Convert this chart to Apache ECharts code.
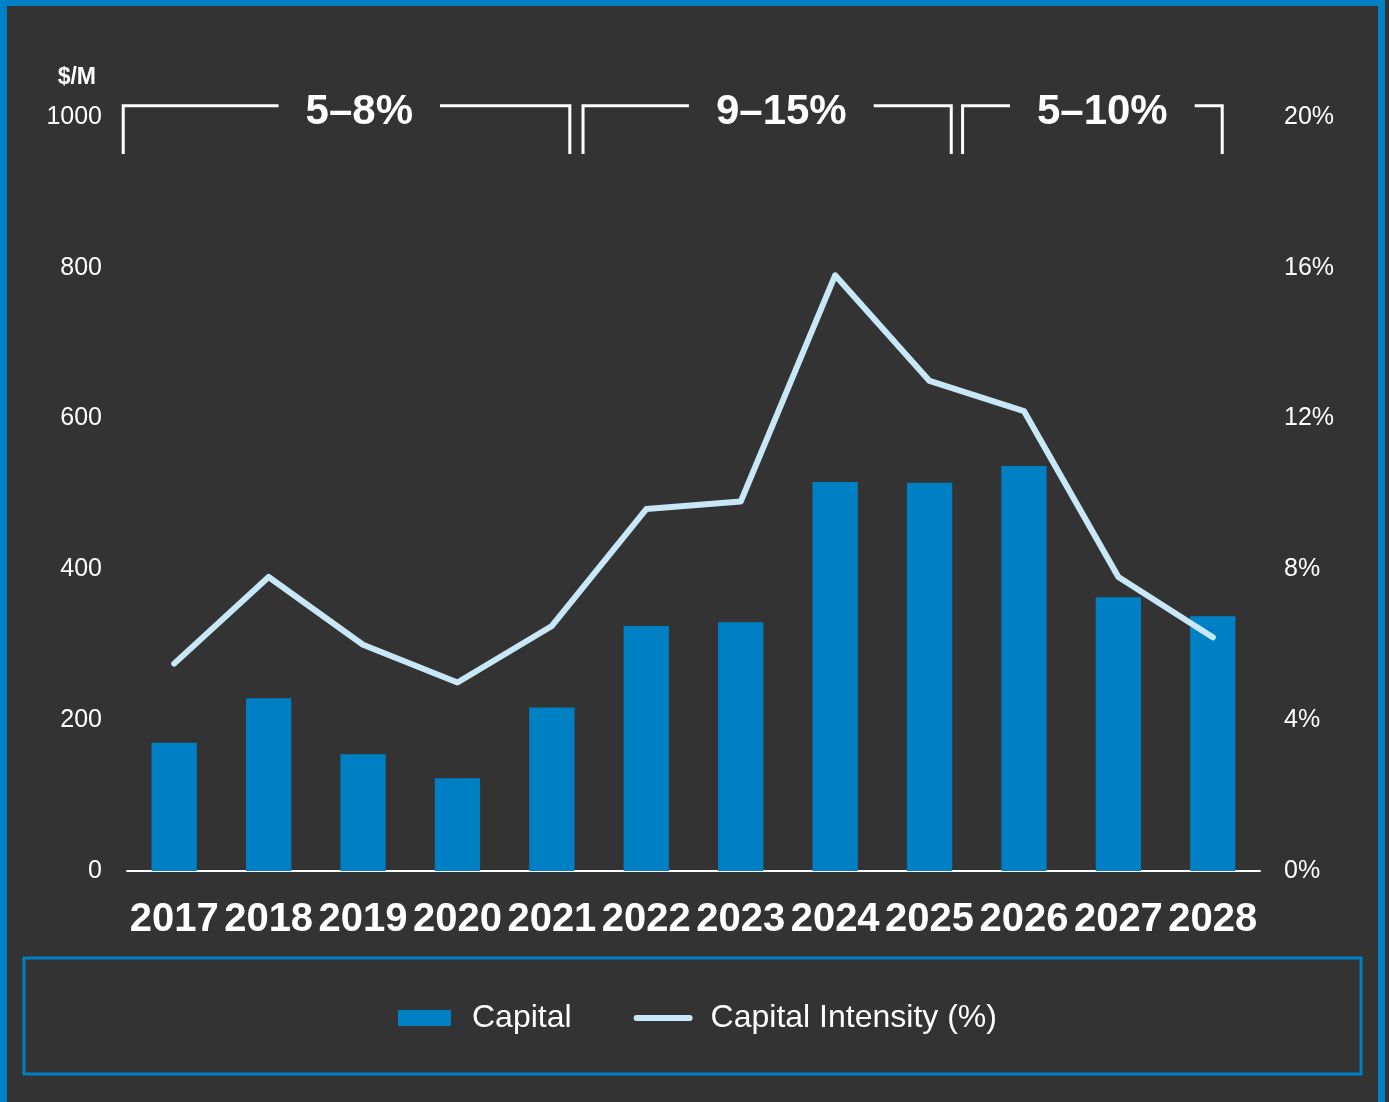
<!DOCTYPE html>
<html><head><meta charset="utf-8">
<script src="https://cdn.jsdelivr.net/npm/echarts@6/dist/echarts.min.js"></script>
<style>html,body{margin:0;padding:0;background:#333333;} #c{width:1389px;height:1102px;}</style>
</head><body><div id="c"></div>
<script>
const years = ['2017','2018','2019','2020','2021','2022','2023','2024','2025','2026','2027','2028'];
const capital = [170, 229, 155, 123, 217, 325, 330, 516, 515, 537, 363, 338];
const intensity = [5.5, 7.8, 6.0, 5.0, 6.5, 9.6, 9.8, 15.8, 13.0, 12.2, 7.8, 6.2];
const bracketLabels = ['5–8%', '9–15%', '5–10%'];
// [start category, end category, label centre category]
const bracketSpans = [[-0.54, 4.19, 1.96], [4.33, 8.23, 6.43], [8.35, 11.10, 9.83]];
const bracketValues = [951, 1015, 1006]; // bottom, top, label (left axis units)

const FONT = '"Liberation Sans", Arial, sans-serif';
const chart = echarts.init(document.getElementById('c'), null, {renderer: 'canvas'});
const option = {
  backgroundColor: '#333333',
  animation: false,
  grid: {left: 127, right: 129, top: 117, bottom: 231, containLabel: false},
  legend: {
    data: [
      {name: 'Capital', icon: 'rect'},
      {name: 'Capital Intensity (%)', itemStyle: {opacity: 0}}
    ],
    left: 393,
    top: 997,
    itemWidth: 53,
    itemHeight: 16,
    itemGap: 62,
    lineStyle: {width: 6, cap: 'round'},
    textStyle: {color: '#ffffff', fontSize: 32, fontFamily: FONT, padding: [0, 0, 0, 16]}
  },
  xAxis: {
    type: 'category',
    data: years,
    axisLine: {show: true, lineStyle: {color: '#ffffff', width: 2}},
    axisTick: {show: false},
    axisLabel: {color: '#ffffff', fontSize: 40, fontWeight: 'bold', interval: 0, margin: 29,
      fontFamily: '"Liberation Sans Narrow", "Liberation Sans", Arial, sans-serif'}
  },
  yAxis: [
    {
      type: 'value', min: 0, max: 1000, interval: 200,
      name: '$/M', nameLocation: 'end', nameGap: 39,
      nameTextStyle: {color: '#ffffff', fontSize: 23, fontWeight: 'bold', fontFamily: FONT,
        align: 'right', verticalAlign: 'middle', padding: [0, 31, 0, 0]},
      axisLine: {show: false}, axisTick: {show: false}, splitLine: {show: false},
      axisLabel: {color: '#ffffff', fontSize: 25, fontFamily: FONT, margin: 25,
        padding: [4, 0, 0, 0], formatter: v => String(v)}
    },
    {
      type: 'value', min: 0, max: 20, interval: 4, position: 'right',
      axisLine: {show: false}, axisTick: {show: false}, splitLine: {show: false},
      axisLabel: {color: '#ffffff', fontSize: 25, fontFamily: FONT, margin: 24,
        padding: [4, 0, 0, 0], formatter: '{value}%'}
    }
  ],
  series: [
    {
      name: 'Capital', type: 'bar', data: capital, barWidth: '48%',
      itemStyle: {color: '#0080c4'}
    },
    {
      name: 'Capital Intensity (%)', type: 'line', yAxisIndex: 1, data: intensity,
      symbol: 'none', lineStyle: {color: '#c8e8f8', width: 6, cap: 'round', join: 'round'},
      itemStyle: {color: '#c8e8f8'}
    }
  ]
};
chart.setOption(option);

// Build annotation brackets positioned through the axes
const p0 = chart.convertToPixel({gridIndex: 0}, [0, 0]);
const p1 = chart.convertToPixel({gridIndex: 0}, [1, 0]);
const step = p1[0] - p0[0];
const catX = c => p0[0] + c * step;
const yBot = chart.convertToPixel({yAxisIndex: 0}, bracketValues[0]);
const yTop = chart.convertToPixel({yAxisIndex: 0}, bracketValues[1]);
const yTxt = chart.convertToPixel({yAxisIndex: 0}, bracketValues[2]);
const ctx = document.createElement('canvas').getContext('2d');
const labelFont = 'bold 42px ' + FONT;
ctx.font = labelFont;
const gap = 27;
const graphics = [];
bracketSpans.forEach((s, i) => {
  const xl = catX(s[0]), xr = catX(s[1]), xt = catX(s[2]);
  const tw = ctx.measureText(bracketLabels[i]).width;
  graphics.push({type: 'polyline', shape: {points: [[xl, yBot], [xl, yTop], [xt - tw / 2 - gap, yTop]]},
    style: {stroke: '#ffffff', lineWidth: 3, fill: null}});
  graphics.push({type: 'polyline', shape: {points: [[xt + tw / 2 + gap, yTop], [xr, yTop], [xr, yBot]]},
    style: {stroke: '#ffffff', lineWidth: 3, fill: null}});
  graphics.push({type: 'text', x: xt, y: yTxt,
    style: {text: bracketLabels[i], fill: '#ffffff', font: labelFont, align: 'center', verticalAlign: 'middle'}});
});
// legend frame
graphics.push({type: 'rect', shape: {x: 24, y: 958, width: 1337, height: 116},
  style: {stroke: '#0080c6', lineWidth: 3, fill: null}});
// outer frame
graphics.push({type: 'rect', shape: {x: 0, y: 0, width: 1385, height: 6}, style: {fill: '#0080c6'}});
graphics.push({type: 'rect', shape: {x: 0, y: 0, width: 7, height: 1102}, style: {fill: '#0080c6'}});
graphics.push({type: 'rect', shape: {x: 1378, y: 0, width: 7, height: 1102}, style: {fill: '#0080c6'}});
chart.setOption({graphic: graphics});
</script></body></html>
